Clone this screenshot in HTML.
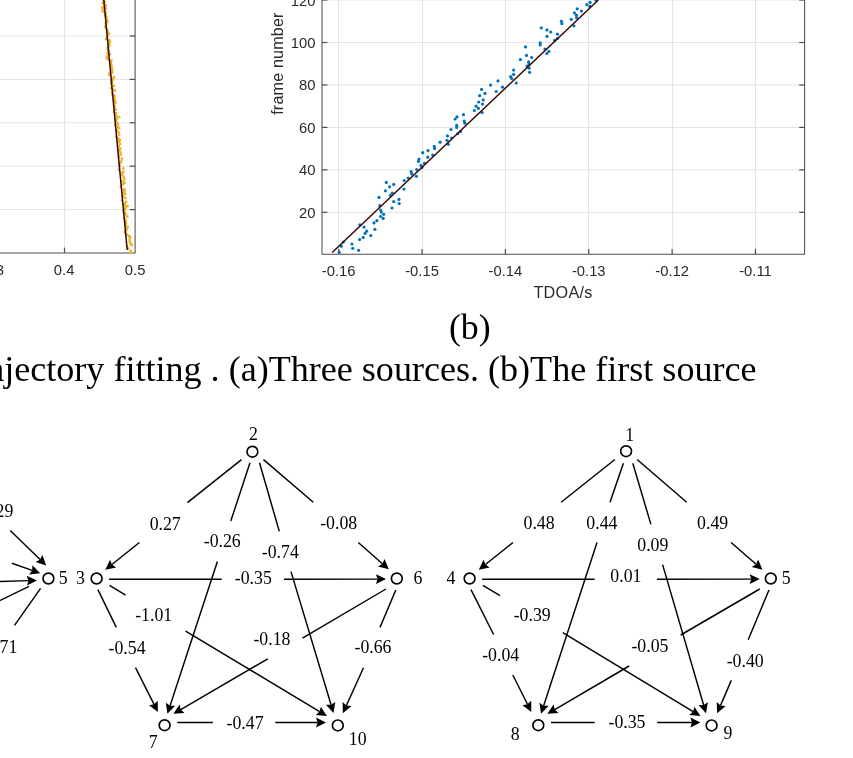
<!DOCTYPE html>
<html><head><meta charset="utf-8"><style>
html,body{margin:0;padding:0;background:#fff;}
body{width:853px;height:758px;overflow:hidden;}
svg{display:block;will-change:transform;}
</style></head><body>
<svg width="853" height="758" viewBox="0 0 853 758">
<rect width="853" height="758" fill="#fff"/>
<line x1="338.50" y1="0" x2="338.50" y2="254.3" stroke="#e4e4e4" stroke-width="1"/>
<line x1="422.50" y1="0" x2="422.50" y2="254.3" stroke="#e4e4e4" stroke-width="1"/>
<line x1="505.50" y1="0" x2="505.50" y2="254.3" stroke="#e4e4e4" stroke-width="1"/>
<line x1="588.50" y1="0" x2="588.50" y2="254.3" stroke="#e4e4e4" stroke-width="1"/>
<line x1="672.50" y1="0" x2="672.50" y2="254.3" stroke="#e4e4e4" stroke-width="1"/>
<line x1="755.50" y1="0" x2="755.50" y2="254.3" stroke="#e4e4e4" stroke-width="1"/>
<line x1="322.0" y1="212.30" x2="804.6" y2="212.30" stroke="#e3e3e3" stroke-width="1"/>
<line x1="322.0" y1="169.85" x2="804.6" y2="169.85" stroke="#e3e3e3" stroke-width="1"/>
<line x1="322.0" y1="127.40" x2="804.6" y2="127.40" stroke="#e3e3e3" stroke-width="1"/>
<line x1="322.0" y1="84.95" x2="804.6" y2="84.95" stroke="#e3e3e3" stroke-width="1"/>
<line x1="322.0" y1="42.50" x2="804.6" y2="42.50" stroke="#e3e3e3" stroke-width="1"/>
<line x1="322.0" y1="0.05" x2="804.6" y2="0.05" stroke="#e3e3e3" stroke-width="1"/>
<path d="M322.0 0 V254.3 H804.6 V0" fill="none" stroke="#4e4e4e" stroke-width="1.05"/>
<line x1="338.70" y1="254.3" x2="338.70" y2="248.9" stroke="#4e4e4e" stroke-width="1.2"/>
<line x1="422.05" y1="254.3" x2="422.05" y2="248.9" stroke="#4e4e4e" stroke-width="1.2"/>
<line x1="505.40" y1="254.3" x2="505.40" y2="248.9" stroke="#4e4e4e" stroke-width="1.2"/>
<line x1="588.75" y1="254.3" x2="588.75" y2="248.9" stroke="#4e4e4e" stroke-width="1.2"/>
<line x1="672.10" y1="254.3" x2="672.10" y2="248.9" stroke="#4e4e4e" stroke-width="1.2"/>
<line x1="755.45" y1="254.3" x2="755.45" y2="248.9" stroke="#4e4e4e" stroke-width="1.2"/>
<line x1="322.0" y1="212.30" x2="327.4" y2="212.30" stroke="#4e4e4e" stroke-width="1.2"/>
<line x1="804.6" y1="212.30" x2="799.2" y2="212.30" stroke="#4e4e4e" stroke-width="1.2"/>
<line x1="322.0" y1="169.85" x2="327.4" y2="169.85" stroke="#4e4e4e" stroke-width="1.2"/>
<line x1="804.6" y1="169.85" x2="799.2" y2="169.85" stroke="#4e4e4e" stroke-width="1.2"/>
<line x1="322.0" y1="127.40" x2="327.4" y2="127.40" stroke="#4e4e4e" stroke-width="1.2"/>
<line x1="804.6" y1="127.40" x2="799.2" y2="127.40" stroke="#4e4e4e" stroke-width="1.2"/>
<line x1="322.0" y1="84.95" x2="327.4" y2="84.95" stroke="#4e4e4e" stroke-width="1.2"/>
<line x1="804.6" y1="84.95" x2="799.2" y2="84.95" stroke="#4e4e4e" stroke-width="1.2"/>
<line x1="322.0" y1="42.50" x2="327.4" y2="42.50" stroke="#4e4e4e" stroke-width="1.2"/>
<line x1="804.6" y1="42.50" x2="799.2" y2="42.50" stroke="#4e4e4e" stroke-width="1.2"/>
<line x1="322.0" y1="0.05" x2="327.4" y2="0.05" stroke="#4e4e4e" stroke-width="1.2"/>
<line x1="804.6" y1="0.05" x2="799.2" y2="0.05" stroke="#4e4e4e" stroke-width="1.2"/>
<text x="338.70" y="276.1" font-family="Liberation Sans, sans-serif" font-size="14.8" fill="#2a2a2a" text-anchor="middle">-0.16</text>
<text x="422.05" y="276.1" font-family="Liberation Sans, sans-serif" font-size="14.8" fill="#2a2a2a" text-anchor="middle">-0.15</text>
<text x="505.40" y="276.1" font-family="Liberation Sans, sans-serif" font-size="14.8" fill="#2a2a2a" text-anchor="middle">-0.14</text>
<text x="588.75" y="276.1" font-family="Liberation Sans, sans-serif" font-size="14.8" fill="#2a2a2a" text-anchor="middle">-0.13</text>
<text x="672.10" y="276.1" font-family="Liberation Sans, sans-serif" font-size="14.8" fill="#2a2a2a" text-anchor="middle">-0.12</text>
<text x="755.45" y="276.1" font-family="Liberation Sans, sans-serif" font-size="14.8" fill="#2a2a2a" text-anchor="middle">-0.11</text>
<text x="315.5" y="217.80" font-family="Liberation Sans, sans-serif" font-size="14.8" fill="#2a2a2a" text-anchor="end">20</text>
<text x="315.5" y="175.35" font-family="Liberation Sans, sans-serif" font-size="14.8" fill="#2a2a2a" text-anchor="end">40</text>
<text x="315.5" y="132.90" font-family="Liberation Sans, sans-serif" font-size="14.8" fill="#2a2a2a" text-anchor="end">60</text>
<text x="315.5" y="90.45" font-family="Liberation Sans, sans-serif" font-size="14.8" fill="#2a2a2a" text-anchor="end">80</text>
<text x="315.5" y="48.00" font-family="Liberation Sans, sans-serif" font-size="14.8" fill="#2a2a2a" text-anchor="end">100</text>
<text x="315.5" y="5.55" font-family="Liberation Sans, sans-serif" font-size="14.8" fill="#2a2a2a" text-anchor="end">120</text>
<text x="563" y="298" font-family="Liberation Sans, sans-serif" font-size="16.2" letter-spacing="0.25" fill="#2a2a2a" text-anchor="middle">TDOA/s</text>
<text transform="translate(282.7,63.6) rotate(-90)" font-family="Liberation Sans, sans-serif" font-size="16.2" letter-spacing="0.13" fill="#2a2a2a" text-anchor="middle">frame number</text>
<g fill="#0072bd">
<circle cx="339.2" cy="252.2" r="1.6"/>
<circle cx="341.4" cy="246.2" r="1.6"/>
<circle cx="343.3" cy="242.0" r="1.6"/>
<circle cx="351.9" cy="244.0" r="1.6"/>
<circle cx="352.7" cy="248.3" r="1.6"/>
<circle cx="358.6" cy="250.3" r="1.6"/>
<circle cx="359.6" cy="239.6" r="1.6"/>
<circle cx="363.2" cy="237.4" r="1.6"/>
<circle cx="359.9" cy="224.8" r="1.6"/>
<circle cx="364.0" cy="227.1" r="1.6"/>
<circle cx="366.6" cy="231.2" r="1.6"/>
<circle cx="365.1" cy="233.4" r="1.6"/>
<circle cx="370.8" cy="235.5" r="1.6"/>
<circle cx="374.0" cy="222.9" r="1.6"/>
<circle cx="376.9" cy="220.7" r="1.6"/>
<circle cx="374.9" cy="229.3" r="1.6"/>
<circle cx="379.0" cy="197.4" r="1.6"/>
<circle cx="379.8" cy="205.7" r="1.6"/>
<circle cx="380.7" cy="210.1" r="1.6"/>
<circle cx="381.3" cy="212.1" r="1.6"/>
<circle cx="383.7" cy="214.3" r="1.6"/>
<circle cx="380.6" cy="216.5" r="1.6"/>
<circle cx="383.2" cy="218.4" r="1.6"/>
<circle cx="386.3" cy="182.4" r="1.6"/>
<circle cx="385.4" cy="190.8" r="1.6"/>
<circle cx="389.6" cy="186.8" r="1.6"/>
<circle cx="393.7" cy="184.4" r="1.6"/>
<circle cx="392.3" cy="193.0" r="1.6"/>
<circle cx="390.4" cy="195.3" r="1.6"/>
<circle cx="393.7" cy="201.6" r="1.6"/>
<circle cx="392.0" cy="208.0" r="1.6"/>
<circle cx="399.0" cy="199.4" r="1.6"/>
<circle cx="399.2" cy="203.6" r="1.6"/>
<circle cx="404.2" cy="180.5" r="1.6"/>
<circle cx="404.0" cy="189.1" r="1.6"/>
<circle cx="408.2" cy="178.1" r="1.6"/>
<circle cx="411.1" cy="171.7" r="1.6"/>
<circle cx="411.8" cy="173.9" r="1.6"/>
<circle cx="416.4" cy="176.3" r="1.6"/>
<circle cx="416.7" cy="169.6" r="1.6"/>
<circle cx="419.0" cy="159.1" r="1.6"/>
<circle cx="418.5" cy="161.4" r="1.6"/>
<circle cx="420.9" cy="165.4" r="1.6"/>
<circle cx="422.0" cy="167.5" r="1.6"/>
<circle cx="424.5" cy="163.3" r="1.6"/>
<circle cx="422.7" cy="152.7" r="1.6"/>
<circle cx="428.0" cy="150.6" r="1.6"/>
<circle cx="427.8" cy="157.2" r="1.6"/>
<circle cx="432.7" cy="155.1" r="1.6"/>
<circle cx="434.3" cy="146.4" r="1.6"/>
<circle cx="434.6" cy="148.5" r="1.6"/>
<circle cx="440.1" cy="142.2" r="1.6"/>
<circle cx="447.5" cy="135.9" r="1.6"/>
<circle cx="447.0" cy="140.3" r="1.6"/>
<circle cx="448.3" cy="144.3" r="1.6"/>
<circle cx="451.7" cy="138.0" r="1.6"/>
<circle cx="451.0" cy="129.5" r="1.6"/>
<circle cx="455.1" cy="119.0" r="1.6"/>
<circle cx="457.0" cy="116.9" r="1.6"/>
<circle cx="456.7" cy="125.3" r="1.6"/>
<circle cx="456.7" cy="127.4" r="1.6"/>
<circle cx="457.8" cy="133.7" r="1.6"/>
<circle cx="460.5" cy="131.6" r="1.6"/>
<circle cx="463.5" cy="114.7" r="1.6"/>
<circle cx="464.2" cy="121.1" r="1.6"/>
<circle cx="464.9" cy="123.2" r="1.6"/>
<circle cx="474.4" cy="110.5" r="1.6"/>
<circle cx="476.1" cy="106.2" r="1.6"/>
<circle cx="478.4" cy="108.4" r="1.6"/>
<circle cx="478.7" cy="102.0" r="1.6"/>
<circle cx="482.1" cy="112.6" r="1.6"/>
<circle cx="482.5" cy="104.1" r="1.6"/>
<circle cx="483.2" cy="99.9" r="1.6"/>
<circle cx="479.7" cy="95.7" r="1.6"/>
<circle cx="481.6" cy="89.4" r="1.6"/>
<circle cx="485.0" cy="93.4" r="1.6"/>
<circle cx="490.6" cy="85.1" r="1.6"/>
<circle cx="496.2" cy="91.5" r="1.6"/>
<circle cx="498.0" cy="80.9" r="1.6"/>
<circle cx="502.5" cy="87.2" r="1.6"/>
<circle cx="510.6" cy="76.7" r="1.6"/>
<circle cx="511.7" cy="78.6" r="1.6"/>
<circle cx="513.6" cy="74.4" r="1.6"/>
<circle cx="513.6" cy="70.1" r="1.6"/>
<circle cx="516.2" cy="83.0" r="1.6"/>
<circle cx="520.4" cy="59.6" r="1.6"/>
<circle cx="525.4" cy="46.9" r="1.6"/>
<circle cx="526.5" cy="55.4" r="1.6"/>
<circle cx="528.6" cy="61.9" r="1.6"/>
<circle cx="529.1" cy="64.0" r="1.6"/>
<circle cx="527.0" cy="66.1" r="1.6"/>
<circle cx="529.1" cy="68.2" r="1.6"/>
<circle cx="529.6" cy="72.3" r="1.6"/>
<circle cx="531.7" cy="57.5" r="1.6"/>
<circle cx="540.2" cy="42.9" r="1.6"/>
<circle cx="540.2" cy="45.0" r="1.6"/>
<circle cx="544.9" cy="49.0" r="1.6"/>
<circle cx="546.8" cy="53.5" r="1.6"/>
<circle cx="548.9" cy="51.4" r="1.6"/>
<circle cx="547.0" cy="36.4" r="1.6"/>
<circle cx="541.3" cy="27.8" r="1.6"/>
<circle cx="547.0" cy="29.9" r="1.6"/>
<circle cx="550.7" cy="32.0" r="1.6"/>
<circle cx="557.5" cy="34.2" r="1.6"/>
<circle cx="557.3" cy="38.5" r="1.6"/>
<circle cx="554.6" cy="40.4" r="1.6"/>
<circle cx="561.4" cy="21.3" r="1.6"/>
<circle cx="561.9" cy="23.7" r="1.6"/>
<circle cx="571.2" cy="19.3" r="1.6"/>
<circle cx="573.9" cy="25.8" r="1.6"/>
<circle cx="574.5" cy="12.9" r="1.6"/>
<circle cx="576.5" cy="15.2" r="1.6"/>
<circle cx="576.5" cy="17.6" r="1.6"/>
<circle cx="577.2" cy="8.8" r="1.6"/>
<circle cx="581.5" cy="11.1" r="1.6"/>
<circle cx="586.8" cy="4.7" r="1.6"/>
<circle cx="590.1" cy="2.3" r="1.6"/>
<circle cx="589.8" cy="6.4" r="1.6"/>
<circle cx="596.0" cy="0.6" r="1.6"/>
</g>
<line x1="332.2" y1="252.5" x2="598.3" y2="0" stroke="#3c0604" stroke-width="1.5"/>
<line x1="64.5" y1="0" x2="64.5" y2="253.0" stroke="#e3e3e3" stroke-width="1"/>
<line x1="-6.1" y1="0" x2="-6.1" y2="253.0" stroke="#e3e3e3" stroke-width="1"/>
<line x1="0" y1="36.0" x2="135.1" y2="36.0" stroke="#e3e3e3" stroke-width="1"/>
<line x1="0" y1="79.4" x2="135.1" y2="79.4" stroke="#e3e3e3" stroke-width="1"/>
<line x1="0" y1="122.8" x2="135.1" y2="122.8" stroke="#e3e3e3" stroke-width="1"/>
<line x1="0" y1="166.2" x2="135.1" y2="166.2" stroke="#e3e3e3" stroke-width="1"/>
<line x1="0" y1="209.6" x2="135.1" y2="209.6" stroke="#e3e3e3" stroke-width="1"/>
<path d="M0 253.0 H135.1 V0" fill="none" stroke="#4e4e4e" stroke-width="1.05"/>
<line x1="64.5" y1="253.0" x2="64.5" y2="247.6" stroke="#4e4e4e" stroke-width="1.2"/>
<line x1="135.1" y1="36.0" x2="129.7" y2="36.0" stroke="#4e4e4e" stroke-width="1.2"/>
<line x1="135.1" y1="79.4" x2="129.7" y2="79.4" stroke="#4e4e4e" stroke-width="1.2"/>
<line x1="135.1" y1="122.8" x2="129.7" y2="122.8" stroke="#4e4e4e" stroke-width="1.2"/>
<line x1="135.1" y1="166.2" x2="129.7" y2="166.2" stroke="#4e4e4e" stroke-width="1.2"/>
<line x1="135.1" y1="209.6" x2="129.7" y2="209.6" stroke="#4e4e4e" stroke-width="1.2"/>
<text x="64.1" y="274.6" font-family="Liberation Sans, sans-serif" font-size="14.8" fill="#2a2a2a" text-anchor="middle">0.4</text>
<text x="135.1" y="274.6" font-family="Liberation Sans, sans-serif" font-size="14.8" fill="#2a2a2a" text-anchor="middle">0.5</text>
<text x="-6.3" y="274.6" font-family="Liberation Sans, sans-serif" font-size="14.8" fill="#2a2a2a" text-anchor="middle">0.3</text>
<g fill="#edb120">
<circle cx="103.57" cy="0.00" r="1.35"/>
<circle cx="104.75" cy="1.81" r="1.35"/>
<circle cx="102.98" cy="2.81" r="1.35"/>
<circle cx="104.01" cy="3.79" r="1.35"/>
<circle cx="105.81" cy="5.40" r="1.35"/>
<circle cx="104.88" cy="6.40" r="1.35"/>
<circle cx="102.50" cy="7.43" r="1.35"/>
<circle cx="105.89" cy="8.50" r="1.35"/>
<circle cx="102.70" cy="9.71" r="1.35"/>
<circle cx="102.81" cy="11.42" r="1.35"/>
<circle cx="105.62" cy="12.88" r="1.35"/>
<circle cx="105.38" cy="14.98" r="1.35"/>
<circle cx="105.98" cy="16.29" r="1.35"/>
<circle cx="106.23" cy="17.62" r="1.35"/>
<circle cx="106.65" cy="19.66" r="1.35"/>
<circle cx="107.67" cy="21.45" r="1.35"/>
<circle cx="105.81" cy="22.88" r="1.35"/>
<circle cx="106.22" cy="23.86" r="1.35"/>
<circle cx="105.90" cy="25.05" r="1.35"/>
<circle cx="105.38" cy="26.39" r="1.35"/>
<circle cx="105.75" cy="28.11" r="1.35"/>
<circle cx="107.32" cy="30.12" r="1.35"/>
<circle cx="107.26" cy="32.00" r="1.35"/>
<circle cx="109.07" cy="33.63" r="1.35"/>
<circle cx="107.45" cy="35.76" r="1.35"/>
<circle cx="106.76" cy="38.03" r="1.35"/>
<circle cx="106.03" cy="39.10" r="1.35"/>
<circle cx="109.12" cy="40.21" r="1.35"/>
<circle cx="110.08" cy="41.79" r="1.35"/>
<circle cx="108.88" cy="43.76" r="1.35"/>
<circle cx="109.39" cy="45.47" r="1.35"/>
<circle cx="107.98" cy="47.34" r="1.35"/>
<circle cx="107.70" cy="49.07" r="1.35"/>
<circle cx="108.48" cy="51.15" r="1.35"/>
<circle cx="107.51" cy="53.37" r="1.35"/>
<circle cx="109.81" cy="54.35" r="1.35"/>
<circle cx="107.23" cy="56.24" r="1.35"/>
<circle cx="106.63" cy="58.29" r="1.35"/>
<circle cx="108.59" cy="59.59" r="1.35"/>
<circle cx="111.41" cy="60.52" r="1.35"/>
<circle cx="110.62" cy="62.06" r="1.35"/>
<circle cx="110.96" cy="63.05" r="1.35"/>
<circle cx="111.28" cy="65.02" r="1.35"/>
<circle cx="111.46" cy="66.47" r="1.35"/>
<circle cx="112.21" cy="68.59" r="1.35"/>
<circle cx="111.83" cy="70.26" r="1.35"/>
<circle cx="112.46" cy="72.40" r="1.35"/>
<circle cx="109.14" cy="73.69" r="1.35"/>
<circle cx="109.94" cy="75.17" r="1.35"/>
<circle cx="113.97" cy="77.41" r="1.35"/>
<circle cx="112.42" cy="78.52" r="1.35"/>
<circle cx="112.97" cy="79.75" r="1.35"/>
<circle cx="111.42" cy="81.32" r="1.35"/>
<circle cx="111.84" cy="82.23" r="1.35"/>
<circle cx="111.39" cy="83.72" r="1.35"/>
<circle cx="113.99" cy="85.95" r="1.35"/>
<circle cx="111.16" cy="87.82" r="1.35"/>
<circle cx="112.97" cy="89.66" r="1.35"/>
<circle cx="115.07" cy="90.64" r="1.35"/>
<circle cx="112.13" cy="92.76" r="1.35"/>
<circle cx="112.65" cy="94.78" r="1.35"/>
<circle cx="114.60" cy="95.83" r="1.35"/>
<circle cx="114.41" cy="97.61" r="1.35"/>
<circle cx="114.27" cy="98.81" r="1.35"/>
<circle cx="113.97" cy="99.93" r="1.35"/>
<circle cx="114.66" cy="100.83" r="1.35"/>
<circle cx="115.40" cy="101.95" r="1.35"/>
<circle cx="115.24" cy="102.88" r="1.35"/>
<circle cx="114.17" cy="105.01" r="1.35"/>
<circle cx="114.37" cy="106.26" r="1.35"/>
<circle cx="114.56" cy="107.65" r="1.35"/>
<circle cx="115.71" cy="109.73" r="1.35"/>
<circle cx="113.99" cy="112.02" r="1.35"/>
<circle cx="115.87" cy="113.04" r="1.35"/>
<circle cx="115.10" cy="114.09" r="1.35"/>
<circle cx="116.72" cy="116.15" r="1.35"/>
<circle cx="119.15" cy="117.27" r="1.35"/>
<circle cx="116.62" cy="118.91" r="1.35"/>
<circle cx="115.98" cy="120.02" r="1.35"/>
<circle cx="116.36" cy="121.66" r="1.35"/>
<circle cx="117.99" cy="123.93" r="1.35"/>
<circle cx="115.29" cy="125.19" r="1.35"/>
<circle cx="118.06" cy="126.61" r="1.35"/>
<circle cx="119.06" cy="128.25" r="1.35"/>
<circle cx="116.88" cy="130.24" r="1.35"/>
<circle cx="118.35" cy="132.28" r="1.35"/>
<circle cx="119.19" cy="134.56" r="1.35"/>
<circle cx="116.10" cy="136.60" r="1.35"/>
<circle cx="118.41" cy="138.54" r="1.35"/>
<circle cx="119.88" cy="139.94" r="1.35"/>
<circle cx="119.46" cy="140.88" r="1.35"/>
<circle cx="118.74" cy="142.14" r="1.35"/>
<circle cx="120.11" cy="144.01" r="1.35"/>
<circle cx="118.59" cy="146.22" r="1.35"/>
<circle cx="120.40" cy="148.51" r="1.35"/>
<circle cx="118.99" cy="149.71" r="1.35"/>
<circle cx="119.75" cy="150.93" r="1.35"/>
<circle cx="120.47" cy="152.71" r="1.35"/>
<circle cx="120.66" cy="154.87" r="1.35"/>
<circle cx="118.80" cy="156.68" r="1.35"/>
<circle cx="121.91" cy="158.70" r="1.35"/>
<circle cx="121.45" cy="160.87" r="1.35"/>
<circle cx="120.69" cy="162.87" r="1.35"/>
<circle cx="119.33" cy="164.02" r="1.35"/>
<circle cx="119.86" cy="166.02" r="1.35"/>
<circle cx="123.28" cy="168.28" r="1.35"/>
<circle cx="118.83" cy="169.74" r="1.35"/>
<circle cx="123.42" cy="171.65" r="1.35"/>
<circle cx="122.23" cy="172.79" r="1.35"/>
<circle cx="122.47" cy="174.96" r="1.35"/>
<circle cx="123.62" cy="176.99" r="1.35"/>
<circle cx="124.31" cy="179.26" r="1.35"/>
<circle cx="121.60" cy="181.08" r="1.35"/>
<circle cx="124.00" cy="182.16" r="1.35"/>
<circle cx="124.62" cy="183.08" r="1.35"/>
<circle cx="122.60" cy="184.72" r="1.35"/>
<circle cx="120.76" cy="186.93" r="1.35"/>
<circle cx="124.45" cy="188.98" r="1.35"/>
<circle cx="123.49" cy="190.18" r="1.35"/>
<circle cx="124.71" cy="191.42" r="1.35"/>
<circle cx="123.73" cy="193.14" r="1.35"/>
<circle cx="125.27" cy="194.22" r="1.35"/>
<circle cx="123.27" cy="196.39" r="1.35"/>
<circle cx="125.47" cy="198.11" r="1.35"/>
<circle cx="121.99" cy="200.28" r="1.35"/>
<circle cx="126.10" cy="201.88" r="1.35"/>
<circle cx="124.63" cy="203.52" r="1.35"/>
<circle cx="125.00" cy="205.04" r="1.35"/>
<circle cx="127.48" cy="206.20" r="1.35"/>
<circle cx="125.33" cy="207.34" r="1.35"/>
<circle cx="125.18" cy="208.90" r="1.35"/>
<circle cx="123.94" cy="210.26" r="1.35"/>
<circle cx="123.60" cy="211.88" r="1.35"/>
<circle cx="125.07" cy="212.93" r="1.35"/>
<circle cx="126.03" cy="214.61" r="1.35"/>
<circle cx="127.27" cy="216.60" r="1.35"/>
<circle cx="124.36" cy="218.21" r="1.35"/>
<circle cx="125.79" cy="220.38" r="1.35"/>
<circle cx="125.60" cy="221.90" r="1.35"/>
<circle cx="125.94" cy="223.52" r="1.35"/>
<circle cx="125.60" cy="225.39" r="1.35"/>
<circle cx="127.77" cy="226.96" r="1.35"/>
<circle cx="126.69" cy="229.18" r="1.35"/>
<circle cx="125.23" cy="231.40" r="1.35"/>
<circle cx="124.99" cy="232.66" r="1.35"/>
<circle cx="126.96" cy="234.74" r="1.35"/>
<circle cx="129.22" cy="235.83" r="1.35"/>
<circle cx="129.29" cy="236.83" r="1.35"/>
<circle cx="130.18" cy="238.07" r="1.35"/>
<circle cx="129.51" cy="240.07" r="1.35"/>
<circle cx="130.04" cy="242.22" r="1.35"/>
<circle cx="130.76" cy="244.05" r="1.35"/>
<circle cx="131.69" cy="245.15" r="1.35"/>
<circle cx="127.01" cy="246.35" r="1.35"/>
<circle cx="128.32" cy="248.59" r="1.35"/>
<circle cx="130.66" cy="250.87" r="1.35"/>
<circle cx="130.70" cy="252.94" r="1.35"/>
</g>
<line x1="103.8" y1="0" x2="127.2" y2="250" stroke="#3c0604" stroke-width="1.5"/>
<text x="469.8" y="339.2" font-family="Liberation Serif, serif" font-size="35.8" fill="#000" text-anchor="middle">(b)</text>
<text x="-44.6" y="380.6" font-family="Liberation Serif, serif" font-size="36.1" fill="#000">Trajectory fitting . (a)Three sources. (b)The first source</text>
<circle cx="252.4" cy="451.7" r="5.4" fill="none" stroke="#000" stroke-width="1.65"/>
<circle cx="96.6" cy="578.5" r="5.4" fill="none" stroke="#000" stroke-width="1.65"/>
<circle cx="396.8" cy="578.5" r="5.4" fill="none" stroke="#000" stroke-width="1.65"/>
<circle cx="164.6" cy="725.2" r="5.4" fill="none" stroke="#000" stroke-width="1.65"/>
<circle cx="337.8" cy="725.4" r="5.4" fill="none" stroke="#000" stroke-width="1.65"/>
<line x1="241.5" y1="459.6" x2="187.4" y2="502.6" stroke="#000" stroke-width="1.45"/>
<line x1="139.4" y1="542.5" x2="111.94" y2="564.49" stroke="#000" stroke-width="1.45"/>
<path d="M105.30 569.80 L110.04 559.73 L111.94 564.49 L116.17 567.38Z" fill="#000"/>
<text x="165.20" y="529.6" font-family="Liberation Serif, serif" font-size="17.8" fill="#000" text-anchor="middle">0.27</text>
<line x1="250" y1="462.7" x2="230.8" y2="521" stroke="#000" stroke-width="1.45"/>
<line x1="217.4" y1="561.4" x2="170.05" y2="705.72" stroke="#000" stroke-width="1.45"/>
<path d="M167.40 713.80 L165.86 702.77 L170.05 705.72 L175.17 705.83Z" fill="#000"/>
<text x="222.25" y="547.3" font-family="Liberation Serif, serif" font-size="17.8" fill="#000" text-anchor="middle">-0.26</text>
<line x1="259.5" y1="462.7" x2="279.3" y2="531.4" stroke="#000" stroke-width="1.45"/>
<line x1="291" y1="571.6" x2="331.05" y2="704.76" stroke="#000" stroke-width="1.45"/>
<path d="M333.50 712.90 L325.93 704.74 L331.05 704.76 L335.31 701.91Z" fill="#000"/>
<text x="280.30" y="558.1" font-family="Liberation Serif, serif" font-size="17.8" fill="#000" text-anchor="middle">-0.74</text>
<line x1="263.5" y1="459.6" x2="313.3" y2="502.3" stroke="#000" stroke-width="1.45"/>
<line x1="358.3" y1="542.5" x2="382.41" y2="563.69" stroke="#000" stroke-width="1.45"/>
<path d="M388.80 569.30 L378.05 566.38 L382.41 563.69 L384.52 559.02Z" fill="#000"/>
<text x="338.70" y="529.2" font-family="Liberation Serif, serif" font-size="17.8" fill="#000" text-anchor="middle">-0.08</text>
<line x1="109" y1="579.3" x2="221.7" y2="579.3" stroke="#000" stroke-width="1.45"/>
<line x1="284" y1="579.3" x2="377.50" y2="579.12" stroke="#000" stroke-width="1.45"/>
<path d="M386.00 579.10 L376.01 584.02 L377.50 579.12 L375.99 574.22Z" fill="#000"/>
<text x="253.30" y="583.9" font-family="Liberation Serif, serif" font-size="17.8" fill="#000" text-anchor="middle">-0.35</text>
<line x1="109.5" y1="585.3" x2="125.6" y2="595.1" stroke="#000" stroke-width="1.45"/>
<line x1="185.6" y1="631.1" x2="319.61" y2="711.62" stroke="#000" stroke-width="1.45"/>
<path d="M326.90 716.00 L315.80 715.05 L319.61 711.62 L320.85 706.65Z" fill="#000"/>
<text x="153.70" y="621" font-family="Liberation Serif, serif" font-size="17.8" fill="#000" text-anchor="middle">-1.01</text>
<line x1="97.9" y1="589.6" x2="116.3" y2="627.4" stroke="#000" stroke-width="1.45"/>
<line x1="135.5" y1="667.7" x2="154.06" y2="704.32" stroke="#000" stroke-width="1.45"/>
<path d="M157.90 711.90 L149.01 705.20 L154.06 704.32 L157.75 700.77Z" fill="#000"/>
<text x="127.10" y="654.2" font-family="Liberation Serif, serif" font-size="17.8" fill="#000" text-anchor="middle">-0.54</text>
<line x1="386" y1="589" x2="302.5" y2="638.2" stroke="#000" stroke-width="1.45"/>
<line x1="267.8" y1="658.8" x2="180.74" y2="709.52" stroke="#000" stroke-width="1.45"/>
<path d="M173.40 713.80 L179.57 704.53 L180.74 709.52 L184.51 713.00Z" fill="#000"/>
<text x="271.90" y="645" font-family="Liberation Serif, serif" font-size="17.8" fill="#000" text-anchor="middle">-0.18</text>
<line x1="395.8" y1="590" x2="380" y2="627.4" stroke="#000" stroke-width="1.45"/>
<line x1="363.5" y1="667.8" x2="346.41" y2="705.46" stroke="#000" stroke-width="1.45"/>
<path d="M342.90 713.20 L342.57 702.07 L346.41 705.46 L351.49 706.12Z" fill="#000"/>
<text x="373.00" y="653" font-family="Liberation Serif, serif" font-size="17.8" fill="#000" text-anchor="middle">-0.66</text>
<line x1="177.4" y1="722.5" x2="212.9" y2="722.5" stroke="#000" stroke-width="1.45"/>
<line x1="275.3" y1="722.5" x2="317.50" y2="722.50" stroke="#000" stroke-width="1.45"/>
<path d="M326.00 722.50 L316.00 727.40 L317.50 722.50 L316.00 717.60Z" fill="#000"/>
<text x="245.10" y="729.2" font-family="Liberation Serif, serif" font-size="17.8" fill="#000" text-anchor="middle">-0.47</text>
<text x="253.45" y="439.7" font-family="Liberation Serif, serif" font-size="17.8" fill="#000" text-anchor="middle">2</text>
<text x="80.50" y="584" font-family="Liberation Serif, serif" font-size="17.8" fill="#000" text-anchor="middle">3</text>
<text x="417.90" y="584" font-family="Liberation Serif, serif" font-size="17.8" fill="#000" text-anchor="middle">6</text>
<text x="153.25" y="748.3" font-family="Liberation Serif, serif" font-size="17.8" fill="#000" text-anchor="middle">7</text>
<text x="357.70" y="745.3" font-family="Liberation Serif, serif" font-size="17.8" fill="#000" text-anchor="middle">10</text>
<circle cx="626.1" cy="451.2" r="5.4" fill="none" stroke="#000" stroke-width="1.65"/>
<circle cx="469.6" cy="578.5" r="5.4" fill="none" stroke="#000" stroke-width="1.65"/>
<circle cx="770.8" cy="578.5" r="5.4" fill="none" stroke="#000" stroke-width="1.65"/>
<circle cx="538.3" cy="725.2" r="5.4" fill="none" stroke="#000" stroke-width="1.65"/>
<circle cx="711.6" cy="725.4" r="5.4" fill="none" stroke="#000" stroke-width="1.65"/>
<line x1="614.9" y1="459.5" x2="561.1" y2="502.3" stroke="#000" stroke-width="1.45"/>
<line x1="513" y1="542.5" x2="485.44" y2="564.50" stroke="#000" stroke-width="1.45"/>
<path d="M478.80 569.80 L483.56 559.73 L485.44 564.50 L489.67 567.39Z" fill="#000"/>
<text x="539.05" y="529.2" font-family="Liberation Serif, serif" font-size="17.8" fill="#000" text-anchor="middle">0.48</text>
<line x1="623.4" y1="463.3" x2="610" y2="502.3" stroke="#000" stroke-width="1.45"/>
<line x1="597" y1="542.6" x2="543.64" y2="705.72" stroke="#000" stroke-width="1.45"/>
<path d="M541.00 713.80 L539.45 702.77 L543.64 705.72 L548.77 705.82Z" fill="#000"/>
<text x="601.90" y="529.3" font-family="Liberation Serif, serif" font-size="17.8" fill="#000" text-anchor="middle">0.44</text>
<line x1="632.8" y1="463.3" x2="650.9" y2="524.4" stroke="#000" stroke-width="1.45"/>
<line x1="662.6" y1="564.6" x2="703.62" y2="705.04" stroke="#000" stroke-width="1.45"/>
<path d="M706.00 713.20 L698.49 704.97 L703.62 705.04 L707.90 702.23Z" fill="#000"/>
<text x="652.80" y="550.8" font-family="Liberation Serif, serif" font-size="17.8" fill="#000" text-anchor="middle">0.09</text>
<line x1="637.1" y1="459.5" x2="686.7" y2="502.3" stroke="#000" stroke-width="1.45"/>
<line x1="731.1" y1="542.5" x2="756.09" y2="564.22" stroke="#000" stroke-width="1.45"/>
<path d="M762.50 569.80 L751.74 566.94 L756.09 564.22 L758.17 559.54Z" fill="#000"/>
<text x="712.65" y="529" font-family="Liberation Serif, serif" font-size="17.8" fill="#000" text-anchor="middle">0.49</text>
<line x1="482.1" y1="579.3" x2="594.6" y2="579.3" stroke="#000" stroke-width="1.45"/>
<line x1="656.9" y1="579.3" x2="751.20" y2="579.12" stroke="#000" stroke-width="1.45"/>
<path d="M759.70 579.10 L749.71 584.02 L751.20 579.12 L749.69 574.22Z" fill="#000"/>
<text x="625.90" y="582" font-family="Liberation Serif, serif" font-size="17.8" fill="#000" text-anchor="middle">0.01</text>
<line x1="482.9" y1="585.3" x2="500" y2="595.7" stroke="#000" stroke-width="1.45"/>
<line x1="562.8" y1="632.6" x2="693.13" y2="711.59" stroke="#000" stroke-width="1.45"/>
<path d="M700.40 716.00 L689.31 715.01 L693.13 711.59 L694.39 706.63Z" fill="#000"/>
<text x="532.20" y="621.4" font-family="Liberation Serif, serif" font-size="17.8" fill="#000" text-anchor="middle">-0.39</text>
<line x1="471" y1="589.6" x2="493.6" y2="634.5" stroke="#000" stroke-width="1.45"/>
<line x1="512.8" y1="675" x2="527.49" y2="704.30" stroke="#000" stroke-width="1.45"/>
<path d="M531.30 711.90 L522.44 705.16 L527.49 704.30 L531.20 700.76Z" fill="#000"/>
<text x="500.65" y="661" font-family="Liberation Serif, serif" font-size="17.8" fill="#000" text-anchor="middle">-0.04</text>
<line x1="759.7" y1="589" x2="680.7" y2="635" stroke="#000" stroke-width="1.45"/>
<line x1="629.1" y1="666" x2="554.74" y2="709.51" stroke="#000" stroke-width="1.45"/>
<path d="M547.40 713.80 L553.56 704.52 L554.74 709.51 L558.51 712.98Z" fill="#000"/>
<text x="649.90" y="652.3" font-family="Liberation Serif, serif" font-size="17.8" fill="#000" text-anchor="middle">-0.05</text>
<line x1="769" y1="590" x2="748.2" y2="639.7" stroke="#000" stroke-width="1.45"/>
<line x1="731.3" y1="680.4" x2="720.56" y2="705.39" stroke="#000" stroke-width="1.45"/>
<path d="M717.20 713.20 L716.65 702.08 L720.56 705.39 L725.65 705.95Z" fill="#000"/>
<text x="745.20" y="666.9" font-family="Liberation Serif, serif" font-size="17.8" fill="#000" text-anchor="middle">-0.40</text>
<line x1="551" y1="722.5" x2="594.7" y2="722.5" stroke="#000" stroke-width="1.45"/>
<line x1="657.2" y1="722.5" x2="691.90" y2="722.50" stroke="#000" stroke-width="1.45"/>
<path d="M700.40 722.50 L690.40 727.40 L691.90 722.50 L690.40 717.60Z" fill="#000"/>
<text x="627.00" y="728.2" font-family="Liberation Serif, serif" font-size="17.8" fill="#000" text-anchor="middle">-0.35</text>
<text x="629.65" y="441.1" font-family="Liberation Serif, serif" font-size="17.8" fill="#000" text-anchor="middle">1</text>
<text x="451.05" y="584" font-family="Liberation Serif, serif" font-size="17.8" fill="#000" text-anchor="middle">4</text>
<text x="786.25" y="584" font-family="Liberation Serif, serif" font-size="17.8" fill="#000" text-anchor="middle">5</text>
<text x="515.20" y="740.2" font-family="Liberation Serif, serif" font-size="17.8" fill="#000" text-anchor="middle">8</text>
<text x="728.00" y="739.1" font-family="Liberation Serif, serif" font-size="17.8" fill="#000" text-anchor="middle">9</text>
<circle cx="48.4" cy="578.5" r="5.4" fill="none" stroke="#000" stroke-width="1.65"/>
<line x1="10.2" y1="530.4" x2="40.11" y2="559.57" stroke="#000" stroke-width="1.45"/>
<path d="M46.20 565.50 L35.62 562.03 L40.11 559.57 L42.46 555.01Z" fill="#000"/>
<line x1="11.9" y1="563.3" x2="32.18" y2="570.39" stroke="#000" stroke-width="1.45"/>
<path d="M40.20 573.20 L29.14 574.52 L32.18 570.39 L32.38 565.27Z" fill="#000"/>
<line x1="-2" y1="581.5" x2="28.40" y2="580.64" stroke="#000" stroke-width="1.45"/>
<path d="M36.90 580.40 L27.04 585.58 L28.40 580.64 L26.77 575.78Z" fill="#000"/>
<line x1="-2" y1="601.5" x2="29" y2="586.4" stroke="#000" stroke-width="1.45"/>
<line x1="14.5" y1="625.3" x2="40.6" y2="588.4" stroke="#000" stroke-width="1.45"/>
<text x="63.30" y="583.7" font-family="Liberation Serif, serif" font-size="17.8" fill="#000" text-anchor="middle">5</text>
<text x="13.4" y="516.7" font-family="Liberation Serif, serif" font-size="17.8" fill="#000" text-anchor="end">0.29</text>
<text x="17.4" y="653" font-family="Liberation Serif, serif" font-size="17.8" fill="#000" text-anchor="end">-0.71</text>
</svg>
</body></html>
